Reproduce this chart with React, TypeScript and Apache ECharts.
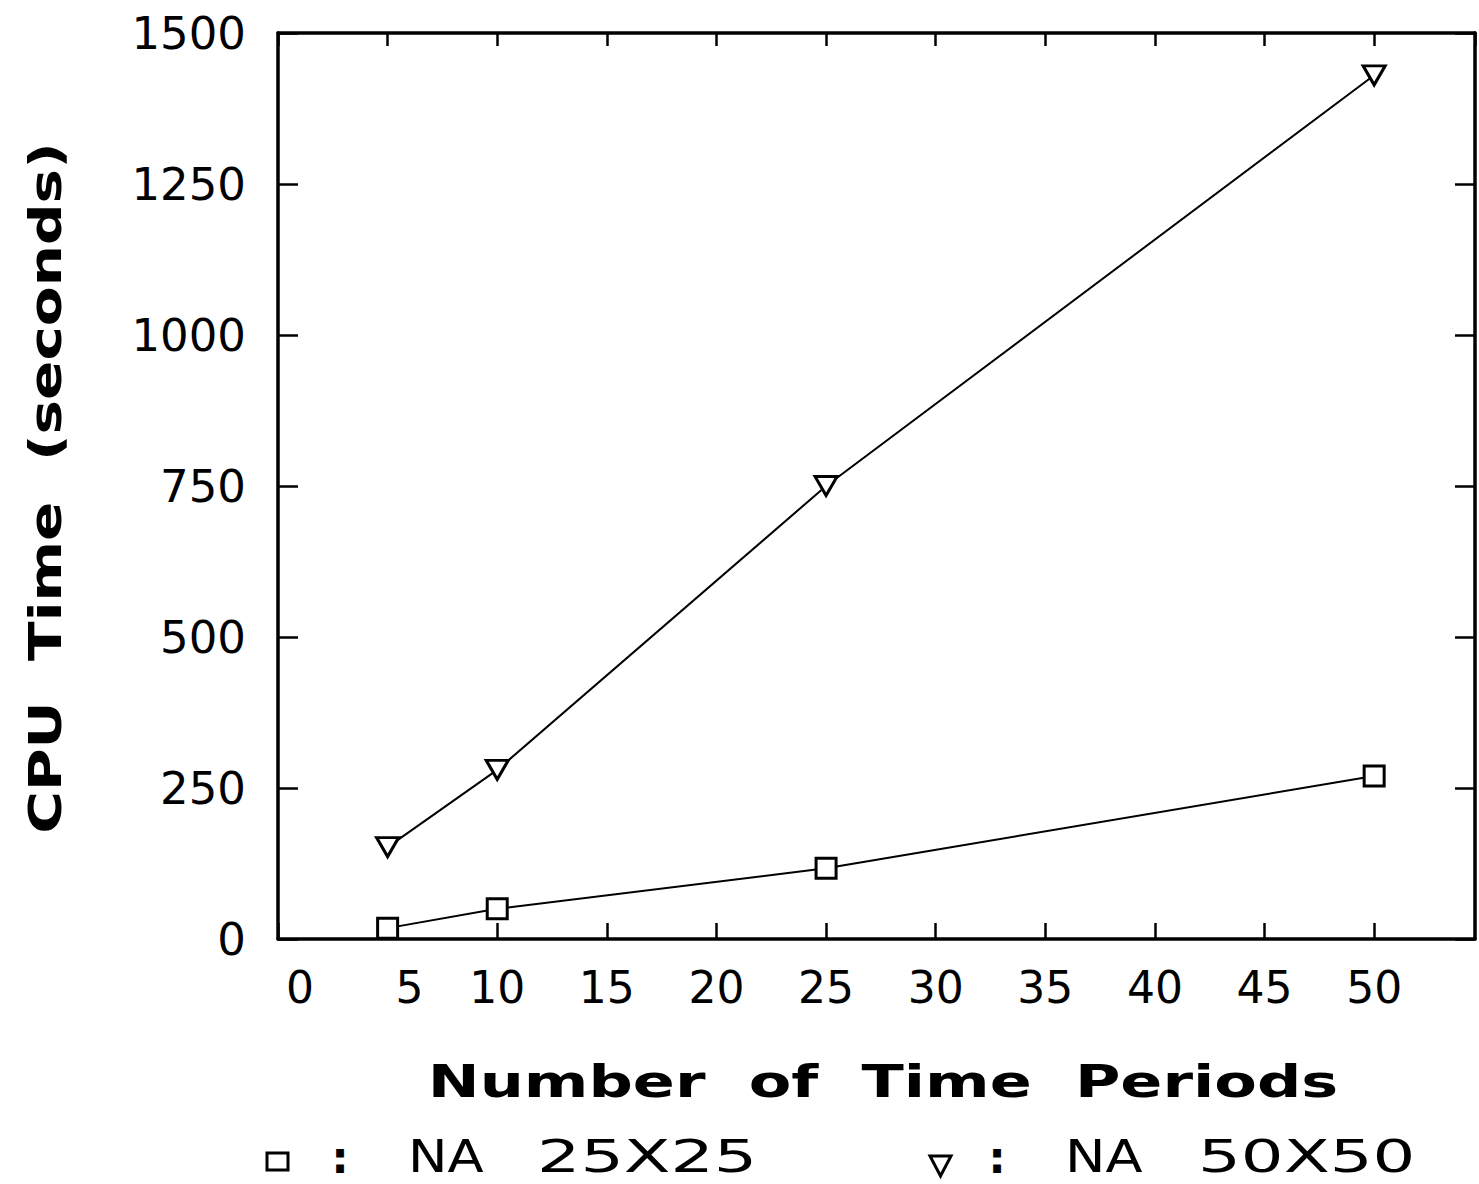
import React, { useEffect, useRef } from "react";
import * as echarts from "echarts";

const periods = [5, 10, 25, 50];
const na25x25 = [18, 50, 117, 270];
const na50x50 = [152, 280, 750, 1430];
const seriesNames = ["NA 25X25", "NA 50X50"];
const xTitle = "Number  of  Time  Periods";
const yTitle = "CPU  Time  (seconds)";

const FONT = "DejaVu Sans";

function txt(
  text: string,
  x: number,
  y: number,
  opts: { size: number; bold?: boolean; scaleX?: number; align?: string; rotation?: number }
) {
  return {
    type: "text",
    x,
    y,
    rotation: opts.rotation ?? 0,
    scaleX: opts.scaleX ?? 1,
    style: {
      text,
      fontFamily: FONT,
      fontWeight: opts.bold ? "bold" : "normal",
      fontSize: opts.size,
      lineHeight: opts.size,
      fill: "#000",
      align: opts.align ?? "center",
      verticalAlign: "middle",
      textAlign: opts.align ?? "center",
      textVerticalAlign: "middle",
    },
  };
}

export default function App() {
  const ref = useRef<HTMLDivElement>(null);
  useEffect(() => {
    document.body.style.margin = "0";
    const chart = echarts.init(ref.current!, null, { renderer: "svg" });
    const axisLine = { show: true, onZero: false, lineStyle: { color: "#000", width: 3.5 } };
    const tickStyle = { color: "#000", width: 2.5 };
    const xCommon = {
      type: "value",
      min: 0,
      max: 54.6,
      interval: 5,
      splitLine: { show: false },
      axisLine,
    };
    const yCommon = {
      type: "value",
      min: 0,
      max: 1500,
      interval: 250,
      splitLine: { show: false },
      axisLine,
    };
    chart.setOption({
      animation: false,
      backgroundColor: "#fff",
      grid: { left: 278, top: 33, right: 4, bottom: 245, containLabel: false },
      xAxis: [
        {
          ...xCommon,
          position: "bottom",
          axisTick: { show: true, inside: true, length: 16, lineStyle: tickStyle },
          axisLabel: {
            show: true,
            margin: 26,
            color: "#000",
            fontFamily: FONT,
            fontSize: 44,
            showMaxLabel: false,
            formatter: (v: number) =>
              v % 5 !== 0 ? "" : v < 10 ? `{p|${v}}` : `{n|${v}}`,
            rich: {
              p: { fontFamily: FONT, fontSize: 44, color: "#000", padding: [0, 0, 0, 44] },
              n: { fontFamily: FONT, fontSize: 44, color: "#000" },
            },
          },
        },
        {
          ...xCommon,
          position: "top",
          axisTick: { show: true, inside: true, length: 13, lineStyle: tickStyle },
          axisLabel: { show: false },
        },
      ],
      yAxis: [
        {
          ...yCommon,
          position: "left",
          axisTick: { show: true, inside: true, length: 20, lineStyle: tickStyle },
          axisLabel: {
            show: true,
            margin: 32,
            color: "#000",
            fontFamily: FONT,
            fontSize: 45,
            formatter: (v: number) => String(v),
          },
        },
        {
          ...yCommon,
          position: "right",
          axisTick: { show: true, inside: true, length: 20, lineStyle: tickStyle },
          axisLabel: { show: false },
        },
      ],
      graphic: [
        txt(xTitle, 883, 1082, { size: 44, bold: true, scaleX: 1.41 }),
        txt(yTitle, 46, 488, { size: 44, bold: true, scaleX: 1.32, rotation: Math.PI / 2 }),
        {
          type: "rect",
          shape: { x: 267, y: 1153, width: 21, height: 17 },
          style: { fill: "#fff", stroke: "#000", lineWidth: 3 },
        },
        txt(":", 340, 1157, { size: 44, bold: true }),
        txt("NA", 408, 1157, { size: 44, scaleX: 1.2, align: "left" }),
        txt("25X25", 537, 1157, { size: 44, scaleX: 1.55, align: "left" }),
        {
          type: "polygon",
          shape: { points: [[930, 1156], [951, 1156], [940.5, 1176]] },
          style: { fill: "#fff", stroke: "#000", lineWidth: 3 },
        },
        txt(":", 997, 1157, { size: 44, bold: true }),
        txt("NA", 1065, 1157, { size: 44, scaleX: 1.23, align: "left" }),
        txt("50X50", 1198, 1157, { size: 44, scaleX: 1.53, align: "left" }),
      ],
      series: [
        {
          name: seriesNames[0],
          type: "line",
          xAxisIndex: 0,
          yAxisIndex: 0,
          data: periods.map((x, i) => [x, na25x25[i]]),
          symbol: "rect",
          symbolSize: 20,
          lineStyle: { color: "#000", width: 2 },
          itemStyle: { color: "#fff", borderColor: "#000", borderWidth: 3 },
        },
        {
          name: seriesNames[1],
          type: "line",
          xAxisIndex: 0,
          yAxisIndex: 0,
          data: periods.map((x, i) => [x, na50x50[i]]),
          symbol: "triangle",
          symbolRotate: 180,
          symbolSize: [22, 19],
          lineStyle: { color: "#000", width: 2 },
          itemStyle: { color: "#fff", borderColor: "#000", borderWidth: 3 },
        },
      ],
    });
    return () => chart.dispose();
  }, []);
  return <div ref={ref} style={{ width: 1479, height: 1184 }} />;
}
